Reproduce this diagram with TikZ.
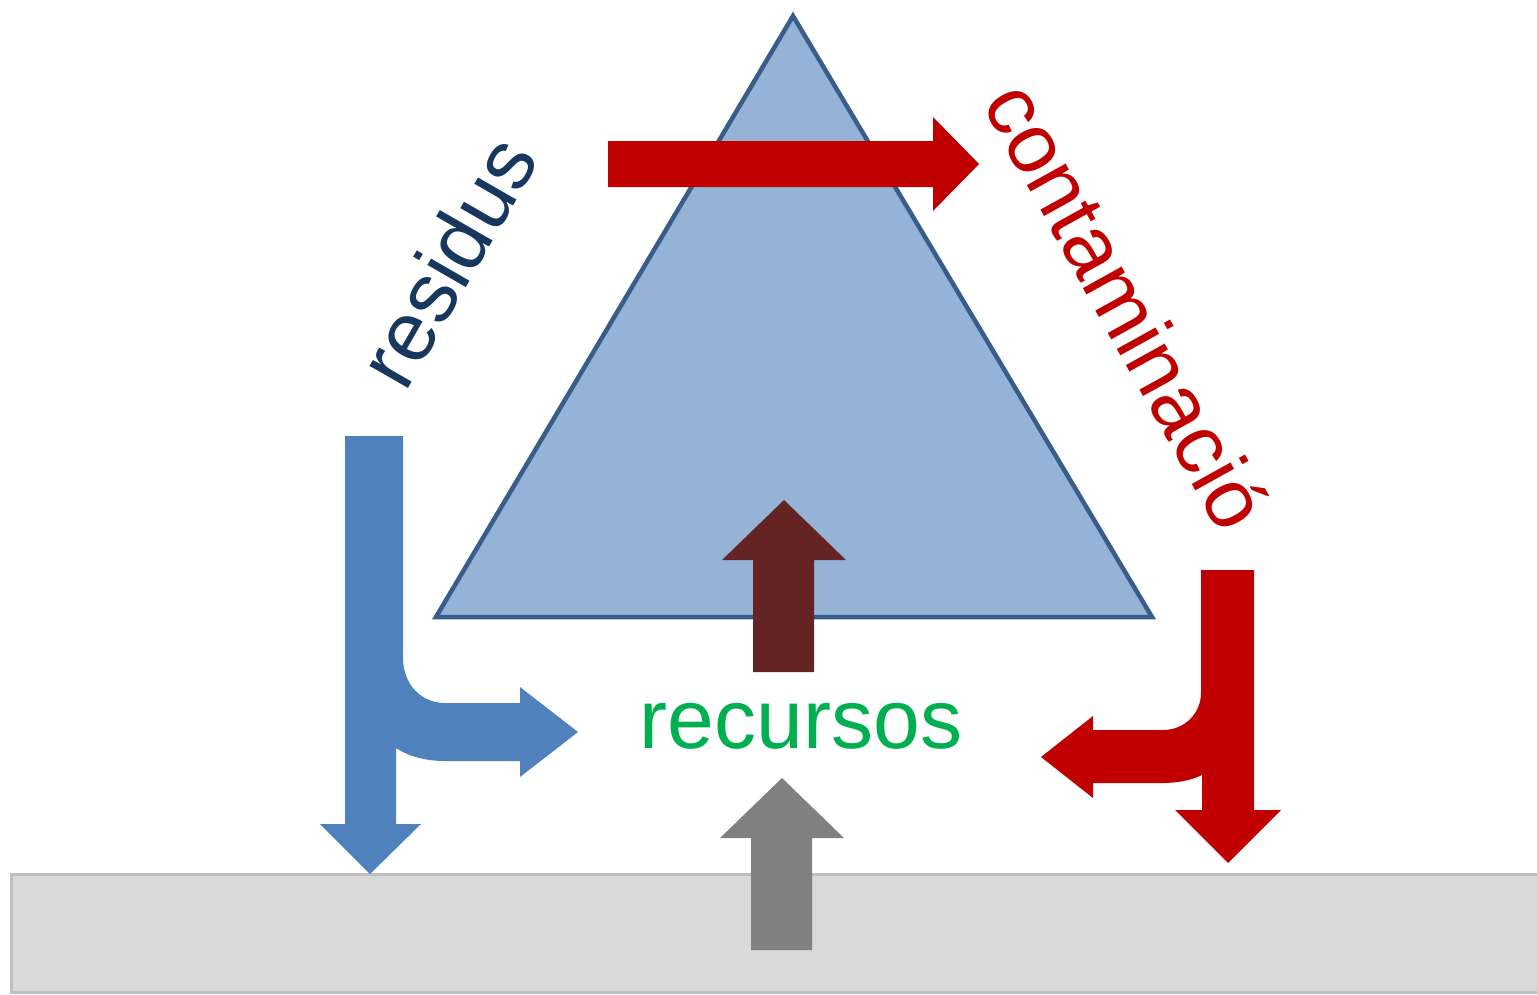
\documentclass[tikz,border=0pt]{standalone}
\usepackage{fontspec}
\setmainfont{Liberation Sans}
\definecolor{triFill}{HTML}{95B3D7}
\definecolor{triLine}{HTML}{385D8A}
\definecolor{wasteBlue}{HTML}{4F81BD}
\definecolor{pollRed}{HTML}{C00000}
\definecolor{resBrown}{HTML}{632423}
\definecolor{resGreen}{HTML}{00B050}
\definecolor{navyText}{HTML}{17375E}
\definecolor{groundFill}{HTML}{D9D9D9}
\definecolor{groundLine}{HTML}{BFBFBF}
\definecolor{srcGray}{HTML}{808080}
\begin{document}
\begin{tikzpicture}[x=1pt,y=-1pt,
  word/.style={font=\fontsize{84}{84}\selectfont, inner sep=0pt}]
\useasboundingbox (0,0) rectangle (1537,994);

% ground
\draw[fill=groundFill, draw=groundLine, line width=3pt] (11,874) rectangle (1560,992);

% society / economy triangle
\draw[fill=triFill, draw=triLine, line width=4.5pt, line join=miter]
  (793,16) -- (1152,617) -- (436,617) -- cycle;

% flow to pollution
\fill[pollRed] (608,141) -- (933,141) -- (933,117) -- (979,164) -- (933,211) -- (933,187) -- (608,187) -- cycle;

% resources into the system
\fill[resBrown] (753,672) -- (753,560) -- (722,560) -- (784,500) -- (846,560) -- (814,560) -- (814,672) -- cycle;

% resources from the ground
\fill[srcGray] (751,950) -- (751,838) -- (720,838) -- (782,778) -- (844,838) -- (812,838) -- (812,950) -- cycle;

% waste: split to ground and to resources
\fill[wasteBlue] (345,436) -- (403,436) -- (403,658)
  .. controls (403,683) and (420,703) .. (445,703) -- (520,703) -- (520,687)
  -- (578,732) -- (520,777) -- (520,761) -- (445,761)
  .. controls (425,761) and (408,756) .. (396,748) -- (396,824) -- (421,824)
  -- (370,874) -- (320,824) -- (345,824) -- cycle;

% pollution: split to ground and to resources
\fill[pollRed] (1201,570) -- (1254,570) -- (1254,810) -- (1281,810) -- (1228,863)
  -- (1175,810) -- (1202,810) -- (1202,775)
  .. controls (1192,780) and (1178,783) .. (1163,783) -- (1093,783) -- (1093,798)
  -- (1041,757) -- (1093,716) -- (1093,730) -- (1163,730)
  .. controls (1185,730) and (1201,713) .. (1201,693) -- cycle;

% labels
\node[word, text=resGreen] (recursos) at (801,726) {recursos};
\node[word, text=navyText, rotate=60] (residus) at (447,261) {residus};
\node[word, text=pollRed, rotate=-61] (contaminacio) at (1128,305) {contaminació};
\end{tikzpicture}
\end{document}
